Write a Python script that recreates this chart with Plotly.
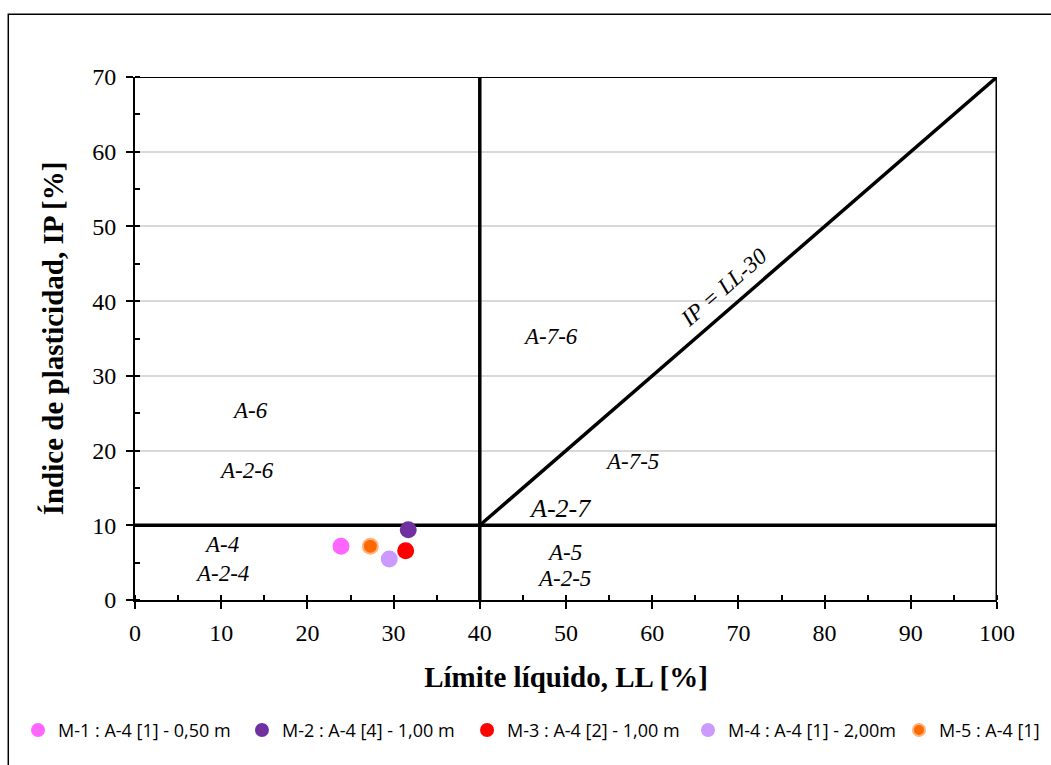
import plotly.graph_objects as go

# Sample data
names = ["M-1 : A-4 [1] - 0,50 m", "M-2 : A-4 [4] - 1,00 m", "M-3 : A-4 [2] - 1,00 m",
         "M-4 : A-4 [1] - 2,00m", "M-5 : A-4 [1]"]
ll = [23.9, 31.7, 31.4, 29.5, 27.3]
ip = [7.2, 9.4, 6.6, 5.5, 7.2]
colors = ["#FF66FF", "#7030A0", "#FF0000", "#CC99FF", "#FF6A00"]
outline = ["#FF66FF", "#7030A0", "#FF0000", "#CC99FF", "#FFB27A"]

# Classification boundary lines
h_line_x = [0, 100]
h_line_y = [10, 10]
v_line_x = [40, 40]
v_line_y = [0, 70]
diag_x = [40, 100]
diag_y = [10, 70]
right_x = [100, 100]
right_y = [0, 70]
top_x = [0, 100]
top_y = [70, 70]

# Zone labels
zone_text = ["A-6", "A-2-6", "A-4", "A-2-4", "A-7-6", "A-7-5", "A-5", "A-2-5"]
zone_x = [13.3, 12.9, 10.0, 10.1, 48.2, 57.6, 49.8, 49.8]
zone_y = [25.4, 17.3, 7.4, 3.6, 35.3, 18.5, 6.3, 2.9]

x_ticks = list(range(0, 101, 10))
y_ticks = list(range(0, 71, 10))

# legend left edges (paper fraction)
legend_x = [-0.1357, 0.1241, 0.3852, 0.6415, 0.8863]

fig = go.Figure()

for lx, ly, w in [(top_x, top_y, 2), (h_line_x, h_line_y, 3.5), (v_line_x, v_line_y, 3.5),
                  (diag_x, diag_y, 3.5), (right_x, right_y, 3)]:
    fig.add_trace(go.Scatter(x=lx, y=ly, mode="lines", line=dict(color="black", width=w),
                             showlegend=False, hoverinfo="skip", cliponaxis=False))

legend_layouts = {}
for i, (n, x, y, c, o) in enumerate(zip(names, ll, ip, colors, outline)):
    lname = "legend" if i == 0 else f"legend{i+1}"
    fig.add_trace(go.Scatter(x=[x], y=[y], mode="markers", name=n, legend=lname,
                             marker=dict(size=15, color=c, line=dict(color=o, width=2))))
    legend_layouts[lname] = dict(orientation="h", x=legend_x[i], xanchor="left",
                                 y=-0.249, yanchor="middle",
                                 font=dict(family="Open Sans", size=18, color="black"),
                                 itemsizing="constant", itemwidth=30,
                                 bgcolor="rgba(0,0,0,0)")

for t, x, y in zip(zone_text, zone_x, zone_y):
    fig.add_annotation(x=x, y=y, text=f"<i>{t}</i>", showarrow=False,
                       font=dict(family="Liberation Serif", size=23, color="black"))

fig.add_annotation(x=49.3, y=12.3, text="<i>A-2-7</i>", showarrow=False,
                   font=dict(family="Liberation Serif", size=26, color="black"))
fig.add_annotation(x=68.3, y=41.8, text="<i>IP = LL-30</i>", showarrow=False, textangle=-41,
                   font=dict(family="Liberation Serif", size=23, color="black"))

# outer chart frame
fig.add_shape(type="rect", xref="paper", yref="paper", x0=-0.147, x1=1.2, y0=-0.5, y1=1.12,
              line=dict(color="black", width=1.5), fillcolor="rgba(0,0,0,0)", layer="below")

fig.update_layout(
    width=1051, height=765,
    margin=dict(l=135, r=54, t=77, b=165, autoexpand=False),
    paper_bgcolor="white", plot_bgcolor="white",
    font=dict(family="Liberation Serif", size=24, color="black"),
    showlegend=True,
    **legend_layouts,
)
fig.update_xaxes(range=[0, 100], tickvals=x_ticks, ticks="outside", ticklen=7, tickwidth=2,
                 tickcolor="black", showline=True, linecolor="black", linewidth=2,
                 showgrid=False, zeroline=False, ticklabelstandoff=3,
                 minor=dict(dtick=5, ticks="inside", ticklen=5, tickwidth=1.5, tickcolor="black"),
                 title=dict(text="<b>Límite líquido, LL [%]</b>", font=dict(size=29), standoff=22))
fig.update_yaxes(range=[0, 70], tickvals=y_ticks, ticks="outside", ticklen=7, tickwidth=2,
                 tickcolor="black", showline=True, linecolor="black", linewidth=2,
                 showgrid=True, gridcolor="#D9D9D9", gridwidth=1.5, zeroline=False,
                 ticklabelstandoff=5,
                 minor=dict(dtick=5, ticks="inside", ticklen=5, tickwidth=1.5, tickcolor="black"),
                 title=dict(text="<b>Índice de plasticidad, IP [%]</b>", font=dict(size=29), standoff=20))

fig.write_html("out.html")
